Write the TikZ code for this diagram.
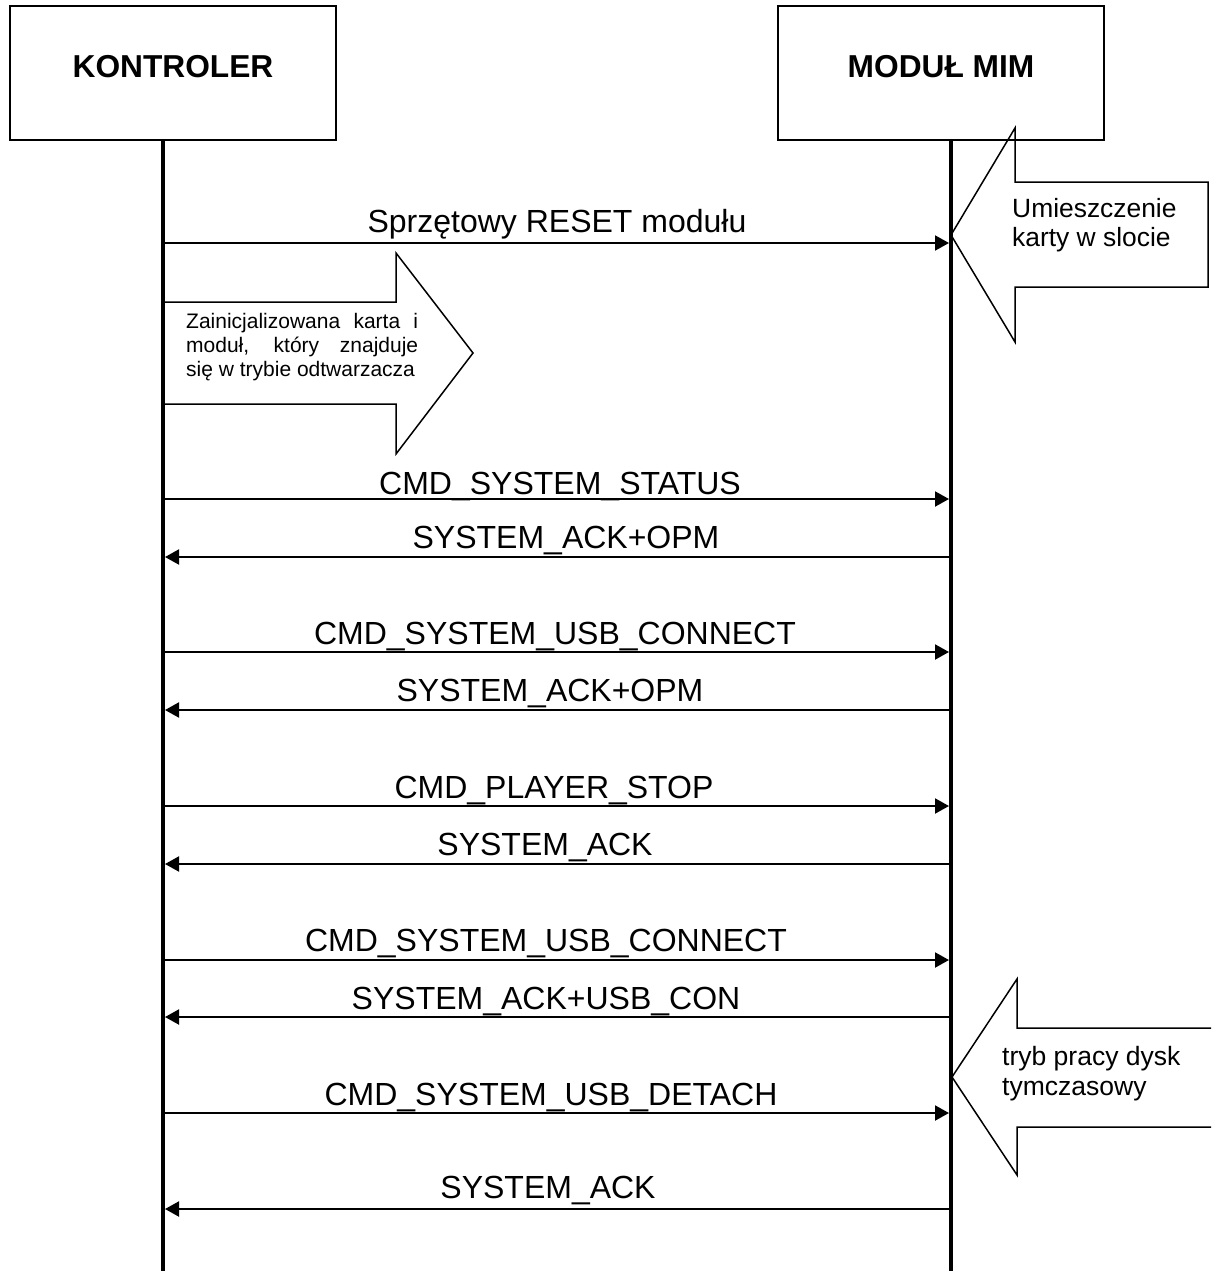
\documentclass[tikz,border=0pt]{standalone}
\usepackage{fontspec}
\setmainfont{Liberation Sans}
\usetikzlibrary{arrows.meta}
\begin{document}
\begin{tikzpicture}[x=1pt,y=-1pt,
  actor/.style={draw,line width=2pt,minimum width=326pt,minimum height=134pt,inner sep=0pt},
  actorlabel/.style={inner sep=0pt,font=\bfseries\fontsize{31.7}{38}\selectfont},
  lifeline/.style={line width=4pt},
  msg/.style={line width=2pt,-{Triangle[length=14pt,width=15pt]}},
  msglabel/.style={anchor=base,inner sep=0pt,font=\fontsize{32}{38}\selectfont},
  blockarrow/.style={draw,line width=1.5pt,fill=white,line join=miter},
  blockedge/.style={line width=1.5pt,line join=miter},
  notetext/.style={anchor=north west,inner sep=0pt,align=left},
]
\useasboundingbox (0,0) rectangle (1211,1271);
\clip (0,0) rectangle (1211,1271);

% block arrows (events and states)
\draw[blockarrow] (163,302) -- (396,302) -- (396,253) -- (473,353) -- (396,454) -- (396,404) -- (163,404);
\draw[blockarrow] (951,235) -- (1015,128) -- (1015,182) -- (1208,182) -- (1208,287) -- (1015,287) -- (1015,342) -- cycle;
\fill[white] (952,1077) -- (1017,979) -- (1017,1028) -- (1230,1028) -- (1230,1127) -- (1017,1127) -- (1017,1175) -- cycle;
\draw[blockedge] (1230,1028) -- (1017,1028) -- (1017,979) -- (952,1077) -- (1017,1175) -- (1017,1127) -- (1230,1127);

\node[notetext,font=\fontsize{21}{24}\selectfont] (init) at (186,313)
  {\makebox[232pt][s]{Zainicjalizowana karta i}\\
   \makebox[232pt][s]{moduł, który znajduje}\\
   się w trybie odtwarzacza};
\node[notetext,font=\fontsize{26.4}{29.5}\selectfont] (card) at (1012,198)
  {Umieszczenie\\karty w slocie};
\node[notetext,font=\fontsize{26.5}{30}\selectfont] (disk) at (1002,1046)
  {tryb pracy dysk\\tymczasowy};

% participants
\node[actor] (ctl) at (173,73) {};
\node[actor] (mim) at (941,73) {};
\node[actorlabel] (ctllabel) at (173,67) {KONTROLER};
\node[actorlabel] (mimlabel) at (941,67) {MODUŁ MIM};

% lifelines
\coordinate (ctltop) at (163,140);
\coordinate (ctlbot) at (163,1275);
\coordinate (mimtop) at (951,140);
\coordinate (mimbot) at (951,1275);
\draw[lifeline] (ctltop) -- (ctlbot);
\draw[lifeline] (mimtop) -- (mimbot);

% message end points on both lifelines
\foreach \i/\y in {1/243,2/499,3/557,4/652,5/710,6/806,7/864,8/960,9/1017,10/1113,11/1209}{
  \coordinate (k\i) at (165,\y);
  \coordinate (m\i) at (949,\y);
}

% messages
\draw[msg] (k1) -- (m1);
\draw[msg] (k2) -- (m2);
\draw[msg] (m3) -- (k3);
\draw[msg] (k4) -- (m4);
\draw[msg] (m5) -- (k5);
\draw[msg] (k6) -- (m6);
\draw[msg] (m7) -- (k7);
\draw[msg] (k8) -- (m8);
\draw[msg] (m9) -- (k9);
\draw[msg] (k10) -- (m10);
\draw[msg] (m11) -- (k11);

% message labels
\node[msglabel] (l1) at (557,232) {Sprzętowy RESET modułu};
\node[msglabel] (l2) at (560,494) {CMD\_SYSTEM\_STATUS};
\node[msglabel] (l3) at (566,548) {SYSTEM\_ACK+OPM};
\node[msglabel] (l4) at (555,644) {CMD\_SYSTEM\_USB\_CONNECT};
\node[msglabel] (l5) at (550,701) {SYSTEM\_ACK+OPM};
\node[msglabel] (l6) at (554,798) {CMD\_PLAYER\_STOP};
\node[msglabel] (l7) at (545,855) {SYSTEM\_ACK};
\node[msglabel] (l8) at (546,951) {CMD\_SYSTEM\_USB\_CONNECT};
\node[msglabel] (l9) at (546,1009) {SYSTEM\_ACK+USB\_CON};
\node[msglabel] (l10) at (551,1105) {CMD\_SYSTEM\_USB\_DETACH};
\node[msglabel] (l11) at (548,1198) {SYSTEM\_ACK};
\end{tikzpicture}
\end{document}
